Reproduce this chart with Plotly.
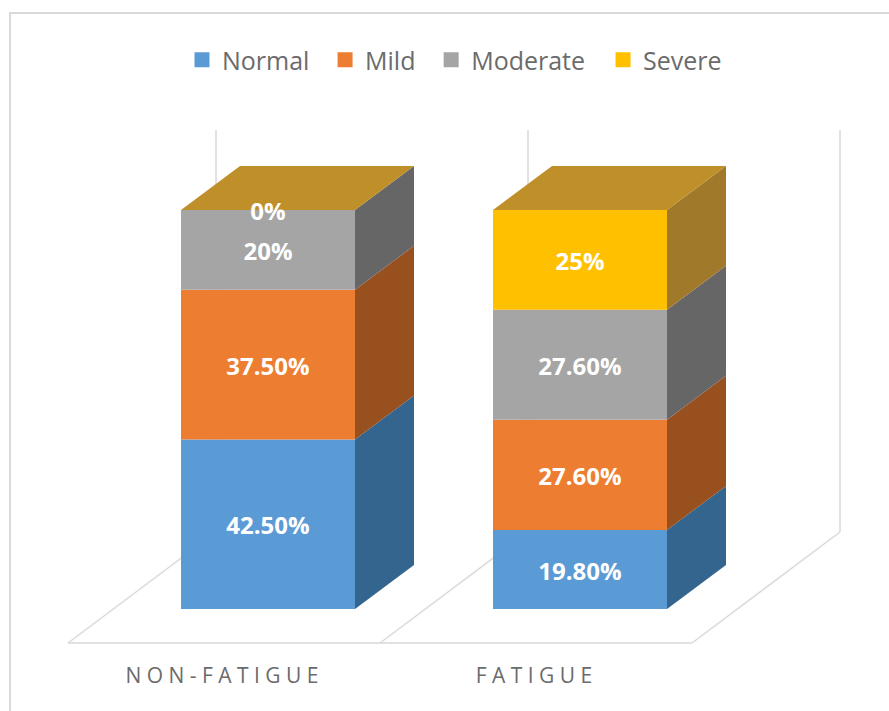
import plotly.graph_objects as go

# Data
groups = ["NON-FATIGUE", "FATIGUE"]
group_labels = ["N O N - F A T I G U E", "F A T I G U E"]
severity = ["Normal", "Mild", "Moderate", "Severe"]
normal = [42.5, 19.8]
mild = [37.5, 27.6]
moderate = [20, 27.6]
severe = [0, 25]
normal_text = ["42.50%", "19.80%"]
mild_text = ["37.50%", "27.60%"]
moderate_text = ["20%", "27.60%"]
severe_text = ["0%", "25%"]

series = [normal, mild, moderate, severe]
series_text = [normal_text, mild_text, moderate_text, severe_text]
front_colors = ["#5B9BD5", "#ED7D31", "#A5A5A5", "#FFC000"]
side_colors = ["#33658F", "#99501F", "#666666", "#A07A2A"]
top_color = "#BF9029"

# Axis scale: one category slot is 312 px wide, one percentage point is 3.99 px tall
W, H = 889, 711
BOTTOM_MARGIN = 56
SLOT_PX, UNIT_PX = 312.0, 3.99
X0_PX, Y0_PX = 268.0, 609.0
x_range = [-X0_PX / SLOT_PX, (W - X0_PX) / SLOT_PX]
y_range = [(Y0_PX - (H - BOTTOM_MARGIN)) / UNIT_PX, Y0_PX / UNIT_PX]

# Oblique projection used for the extruded look
BAR_WIDTH = 174 / SLOT_PX
DEPTH_X = 59 / SLOT_PX
DEPTH_Y = 44 / UNIT_PX
positions = [0, 1]

fig = go.Figure()

bases = [[0, 0]]
for values in series:
    bases.append([b + v for b, v in zip(bases[-1], values)])

# Front faces
for i, name in enumerate(severity):
    fig.add_trace(go.Bar(
        x=positions, y=series[i], base=bases[i], width=BAR_WIDTH, name=name,
        marker=dict(color=front_colors[i], line=dict(width=0)),
        showlegend=False, hoverinfo="skip",
    ))

# Side faces of every segment, then the lid of each column
right = [p + BAR_WIDTH / 2 for p in positions]
left = [p - BAR_WIDTH / 2 for p in positions]
for i in range(len(severity)):
    for j in range(len(positions)):
        lo, hi = bases[i][j], bases[i + 1][j]
        if hi == lo:
            continue
        fig.add_trace(go.Scatter(
            x=[right[j], right[j] + DEPTH_X, right[j] + DEPTH_X, right[j], right[j]],
            y=[lo, lo + DEPTH_Y, hi + DEPTH_Y, hi, lo],
            mode="lines", fill="toself", fillcolor=side_colors[i],
            line=dict(width=0), showlegend=False, hoverinfo="skip",
        ))
for j in range(len(positions)):
    top = bases[-1][j]
    fig.add_trace(go.Scatter(
        x=[left[j], left[j] + DEPTH_X, right[j] + DEPTH_X, right[j], left[j]],
        y=[top, top + DEPTH_Y, top + DEPTH_Y, top, top],
        mode="lines", fill="toself", fillcolor=top_color,
        line=dict(width=0), showlegend=False, hoverinfo="skip",
    ))

# Value labels centred on each segment's front face, nudged down for optical balance
LABEL_DROP = 4 / UNIT_PX
for i in range(len(severity)):
    fig.add_trace(go.Scatter(
        x=positions,
        y=[(a + b) / 2 - LABEL_DROP for a, b in zip(bases[i], bases[i + 1])],
        text=series_text[i], mode="text",
        textfont=dict(family="Open Sans", size=24, color="white", weight="bold"),
        showlegend=False, hoverinfo="skip",
    ))

# Legend entries: square swatches, with trailing spaces widening the gaps between them
legend_padding = ["\u00a0\u2009", "\u00a0\u2009", "\u00a0\u00a0", ""]
for i, name in enumerate(severity):
    fig.add_trace(go.Scatter(
        x=[None], y=[None], mode="markers", name=name + legend_padding[i],
        marker=dict(symbol="square", size=15, color=front_colors[i]),
        hoverinfo="skip",
    ))

# Floor and back-wall guide lines behind the columns
FLOOR_FRONT = -34 / UNIT_PX
WALL_TOP = (Y0_PX - 130) / UNIT_PX
FLOOR_BACK = (Y0_PX - 532) / UNIT_PX
GRID = dict(color="#D9D9D9", width=1.5)
slot_edges = [(68 - X0_PX) / SLOT_PX + k for k in range(3)]
RUN_X = 148 / SLOT_PX
shapes = [
    dict(type="line", x0=slot_edges[0], x1=slot_edges[-1], y0=FLOOR_FRONT, y1=FLOOR_FRONT,
         line=GRID, layer="below"),
    dict(type="rect", xref="paper", yref="paper", x0=10 / W, x1=1.02, y0=-0.2,
         y1=1 - 13 / (H - BOTTOM_MARGIN), line=dict(color="#D9D9D9", width=2), layer="below"),
]
for edge in slot_edges:
    shapes.append(dict(type="line", x0=edge, x1=edge + RUN_X, y0=FLOOR_FRONT, y1=FLOOR_BACK,
                       line=GRID, layer="below"))
    shapes.append(dict(type="line", x0=edge + RUN_X, x1=edge + RUN_X, y0=FLOOR_BACK, y1=WALL_TOP,
                       line=GRID, layer="below"))

fig.update_layout(
    width=W, height=H,
    margin=dict(l=0, r=0, t=0, b=BOTTOM_MARGIN),
    barmode="overlay",
    paper_bgcolor="white", plot_bgcolor="rgba(0,0,0,0)",
    shapes=shapes,
    showlegend=True,
    legend=dict(
        orientation="h", x=0.5 + 10 / W, xanchor="center",
        y=1 - 60 / (H - BOTTOM_MARGIN), yanchor="middle",
        font=dict(family="Open Sans", size=25, color="#6B6B6B"),
        traceorder="normal", itemsizing="trace",
    ),
    xaxis=dict(
        range=x_range, showgrid=False, zeroline=False, showline=False, fixedrange=True,
        tickmode="array", tickvals=[p - 46 / SLOT_PX for p in positions], ticktext=group_labels,
        ticks="", ticklabelstandoff=6,
        tickfont=dict(family="Open Sans", size=21, color="#6B6B6B"),
    ),
    yaxis=dict(range=y_range, visible=False, fixedrange=True),
    font=dict(family="Open Sans"),
)

fig.write_html("out.html")
